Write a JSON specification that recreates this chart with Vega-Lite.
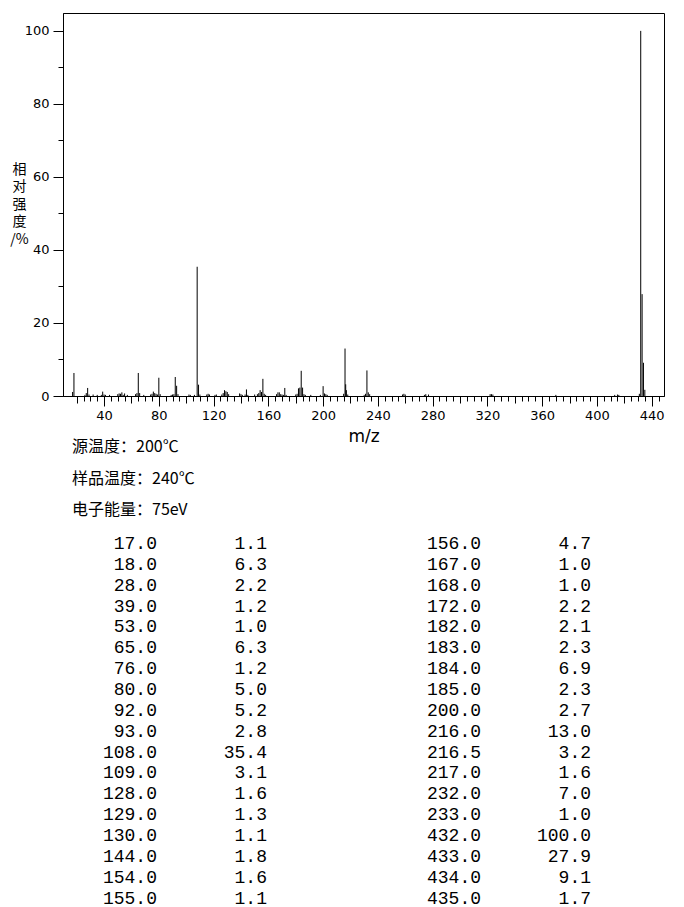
{
  "$schema": "https://vega.github.io/schema/vega-lite/v6.json",
  "background": "white",
  "padding": {"left": 9, "top": 12, "right": 0, "bottom": 0},
  "bounds": "flush",
  "spacing": 34,
  "config": {
    "view": {"stroke": null},
    "font": "DejaVu Sans",
    "axis": {
      "grid": false,
      "domainColor": "black",
      "tickColor": "black",
      "labelColor": "black",
      "titleColor": "black",
      "labelFont": "DejaVu Sans",
      "labelFontSize": 13,
      "titleFontWeight": "normal",
      "tickWidth": 1,
      "domainWidth": 1,
      "labelFlush": false,
      "labelOverlap": false
    }
  },
  "datasets": {
    "peaks": [
      {"mz": 17, "intensity": 1.1}, {"mz": 18, "intensity": 6.3}, {"mz": 26, "intensity": 0.3}, {"mz": 27, "intensity": 0.8},
      {"mz": 28, "intensity": 2.2}, {"mz": 29, "intensity": 0.4}, {"mz": 32, "intensity": 0.4}, {"mz": 35, "intensity": 0.3},
      {"mz": 38, "intensity": 0.3}, {"mz": 39, "intensity": 1.2}, {"mz": 40, "intensity": 0.4}, {"mz": 41, "intensity": 0.3},
      {"mz": 44, "intensity": 0.3}, {"mz": 50, "intensity": 0.5}, {"mz": 51, "intensity": 0.7}, {"mz": 52, "intensity": 0.6},
      {"mz": 53, "intensity": 1.0}, {"mz": 54, "intensity": 0.3}, {"mz": 55, "intensity": 0.7}, {"mz": 57, "intensity": 0.3},
      {"mz": 63, "intensity": 0.5}, {"mz": 64, "intensity": 0.8}, {"mz": 65, "intensity": 6.3}, {"mz": 66, "intensity": 0.8},
      {"mz": 69, "intensity": 0.3}, {"mz": 74, "intensity": 0.4}, {"mz": 75, "intensity": 0.6}, {"mz": 76, "intensity": 1.2},
      {"mz": 77, "intensity": 0.8}, {"mz": 78, "intensity": 0.6}, {"mz": 79, "intensity": 0.4}, {"mz": 80, "intensity": 5.0},
      {"mz": 81, "intensity": 0.5}, {"mz": 89, "intensity": 0.3}, {"mz": 90, "intensity": 0.4}, {"mz": 91, "intensity": 0.5},
      {"mz": 92, "intensity": 5.2}, {"mz": 93, "intensity": 2.8}, {"mz": 94, "intensity": 0.5}, {"mz": 102, "intensity": 0.4},
      {"mz": 103, "intensity": 0.3}, {"mz": 106, "intensity": 0.3}, {"mz": 108, "intensity": 35.4}, {"mz": 109, "intensity": 3.1},
      {"mz": 110, "intensity": 0.4}, {"mz": 115, "intensity": 0.4}, {"mz": 116, "intensity": 0.6}, {"mz": 117, "intensity": 0.4},
      {"mz": 121, "intensity": 0.3}, {"mz": 122, "intensity": 0.4}, {"mz": 126, "intensity": 0.4}, {"mz": 127, "intensity": 0.8},
      {"mz": 128, "intensity": 1.6}, {"mz": 129, "intensity": 1.3}, {"mz": 130, "intensity": 1.1}, {"mz": 131, "intensity": 0.5},
      {"mz": 139, "intensity": 0.7}, {"mz": 140, "intensity": 0.5}, {"mz": 141, "intensity": 0.3}, {"mz": 143, "intensity": 0.4},
      {"mz": 144, "intensity": 1.8}, {"mz": 145, "intensity": 0.3}, {"mz": 150, "intensity": 0.4}, {"mz": 152, "intensity": 0.5},
      {"mz": 153, "intensity": 0.8}, {"mz": 154, "intensity": 1.6}, {"mz": 155, "intensity": 1.1}, {"mz": 156, "intensity": 4.7},
      {"mz": 157, "intensity": 0.6}, {"mz": 158, "intensity": 0.3}, {"mz": 166, "intensity": 0.5}, {"mz": 167, "intensity": 1.0},
      {"mz": 168, "intensity": 1.0}, {"mz": 169, "intensity": 0.5}, {"mz": 170, "intensity": 0.4}, {"mz": 171, "intensity": 0.3},
      {"mz": 172, "intensity": 2.2}, {"mz": 173, "intensity": 0.3}, {"mz": 180, "intensity": 0.4}, {"mz": 181, "intensity": 0.6},
      {"mz": 182, "intensity": 2.1}, {"mz": 183, "intensity": 2.3}, {"mz": 184, "intensity": 6.9}, {"mz": 185, "intensity": 2.3},
      {"mz": 186, "intensity": 0.5}, {"mz": 187, "intensity": 0.3}, {"mz": 191, "intensity": 0.3}, {"mz": 198, "intensity": 0.3},
      {"mz": 200, "intensity": 2.7}, {"mz": 201, "intensity": 0.7}, {"mz": 202, "intensity": 0.5}, {"mz": 203, "intensity": 0.3},
      {"mz": 215, "intensity": 0.6}, {"mz": 216, "intensity": 13.0}, {"mz": 216.5, "intensity": 3.2}, {"mz": 217, "intensity": 1.6},
      {"mz": 218, "intensity": 0.4}, {"mz": 230, "intensity": 0.3}, {"mz": 231, "intensity": 0.6}, {"mz": 232, "intensity": 7.0},
      {"mz": 233, "intensity": 1.0}, {"mz": 234, "intensity": 0.5}, {"mz": 258, "intensity": 0.4}, {"mz": 259, "intensity": 0.6},
      {"mz": 260, "intensity": 0.4}, {"mz": 274, "intensity": 0.3}, {"mz": 275, "intensity": 0.5}, {"mz": 277, "intensity": 0.4},
      {"mz": 322, "intensity": 0.5}, {"mz": 323, "intensity": 0.5}, {"mz": 324, "intensity": 0.4}, {"mz": 370, "intensity": 0.3},
      {"mz": 413, "intensity": 0.3}, {"mz": 415, "intensity": 0.4}, {"mz": 416, "intensity": 0.3}, {"mz": 431, "intensity": 0.6},
      {"mz": 432, "intensity": 100.0}, {"mz": 433, "intensity": 27.9}, {"mz": 434, "intensity": 9.1}, {"mz": 435, "intensity": 1.7}
    ],
    "info": [
      {"column": "left", "line": 1, "text": "源温度：200℃"},
      {"column": "left", "line": 2, "text": "样品温度：240℃"},
      {"column": "left", "line": 3, "text": "电子能量：75eV"}
    ],
    "table": [
      {"column": "left", "line": 1, "mz": "17.0", "intensity": "1.1"},
      {"column": "left", "line": 2, "mz": "18.0", "intensity": "6.3"},
      {"column": "left", "line": 3, "mz": "28.0", "intensity": "2.2"},
      {"column": "left", "line": 4, "mz": "39.0", "intensity": "1.2"},
      {"column": "left", "line": 5, "mz": "53.0", "intensity": "1.0"},
      {"column": "left", "line": 6, "mz": "65.0", "intensity": "6.3"},
      {"column": "left", "line": 7, "mz": "76.0", "intensity": "1.2"},
      {"column": "left", "line": 8, "mz": "80.0", "intensity": "5.0"},
      {"column": "left", "line": 9, "mz": "92.0", "intensity": "5.2"},
      {"column": "left", "line": 10, "mz": "93.0", "intensity": "2.8"},
      {"column": "left", "line": 11, "mz": "108.0", "intensity": "35.4"},
      {"column": "left", "line": 12, "mz": "109.0", "intensity": "3.1"},
      {"column": "left", "line": 13, "mz": "128.0", "intensity": "1.6"},
      {"column": "left", "line": 14, "mz": "129.0", "intensity": "1.3"},
      {"column": "left", "line": 15, "mz": "130.0", "intensity": "1.1"},
      {"column": "left", "line": 16, "mz": "144.0", "intensity": "1.8"},
      {"column": "left", "line": 17, "mz": "154.0", "intensity": "1.6"},
      {"column": "left", "line": 18, "mz": "155.0", "intensity": "1.1"},
      {"column": "right", "line": 1, "mz": "156.0", "intensity": "4.7"},
      {"column": "right", "line": 2, "mz": "167.0", "intensity": "1.0"},
      {"column": "right", "line": 3, "mz": "168.0", "intensity": "1.0"},
      {"column": "right", "line": 4, "mz": "172.0", "intensity": "2.2"},
      {"column": "right", "line": 5, "mz": "182.0", "intensity": "2.1"},
      {"column": "right", "line": 6, "mz": "183.0", "intensity": "2.3"},
      {"column": "right", "line": 7, "mz": "184.0", "intensity": "6.9"},
      {"column": "right", "line": 8, "mz": "185.0", "intensity": "2.3"},
      {"column": "right", "line": 9, "mz": "200.0", "intensity": "2.7"},
      {"column": "right", "line": 10, "mz": "216.0", "intensity": "13.0"},
      {"column": "right", "line": 11, "mz": "216.5", "intensity": "3.2"},
      {"column": "right", "line": 12, "mz": "217.0", "intensity": "1.6"},
      {"column": "right", "line": 13, "mz": "232.0", "intensity": "7.0"},
      {"column": "right", "line": 14, "mz": "233.0", "intensity": "1.0"},
      {"column": "right", "line": 15, "mz": "432.0", "intensity": "100.0"},
      {"column": "right", "line": 16, "mz": "433.0", "intensity": "27.9"},
      {"column": "right", "line": 17, "mz": "434.0", "intensity": "9.1"},
      {"column": "right", "line": 18, "mz": "435.0", "intensity": "1.7"}
    ]
  },
  "vconcat": [
    {
      "width": 601,
      "height": 383,
      "view": {"stroke": "black", "strokeWidth": 1},
      "data": {"name": "peaks"},
      "layer": [
        {
          "mark": {"type": "rule", "color": "black", "strokeWidth": 1},
          "encoding": {
            "x": {
              "field": "mz", "type": "quantitative",
              "scale": {"domain": [10, 449], "nice": false, "zero": false},
              "axis": {
                "orient": "bottom",
                "values": [40, 80, 120, 160, 200, 240, 280, 320, 360, 400, 440],
                "tickSize": 10,
                "labelPadding": 3,
                "title": "m/z",
                "titleFont": "DejaVu Sans",
                "titleFontSize": 17,
                "titlePadding": 6
              }
            },
            "y": {
              "field": "intensity", "type": "quantitative",
              "scale": {"domain": [0, 104.9], "nice": false},
              "axis": {
                "orient": "left",
                "values": [0, 20, 40, 60, 80, 100],
                "tickSize": 10,
                "labelPadding": 4,
                "title": ["相", "对", "强", "度", "/%"],
                "titleAngle": 0,
                "titleAlign": "center",
                "titleBaseline": "middle",
                "titleX": -44,
                "titleY": 156,
                "titleFont": "Noto Sans CJK SC",
                "titleFontSize": 14,
                "titleLineHeight": 17.5
              }
            },
            "y2": {"datum": 0}
          }
        },
        {
          "mark": {"type": "rule", "opacity": 0},
          "encoding": {
            "x": {
              "field": "mz", "type": "quantitative",
              "axis": {
                "orient": "bottom",
                "values": [20, 60, 100, 140, 180, 220, 260, 300, 340, 380, 420],
                "tickSize": 7, "labels": false, "domain": false, "title": null
              }
            },
            "y": {
              "field": "intensity", "type": "quantitative",
              "axis": {
                "orient": "left",
                "values": [10, 30, 50, 70, 90],
                "tickSize": 5, "labels": false, "domain": false, "title": null
              }
            },
            "y2": {"datum": 0}
          }
        },
        {
          "mark": {"type": "rule", "opacity": 0},
          "encoding": {
            "x": {
              "field": "mz", "type": "quantitative",
              "axis": {
                "orient": "bottom",
                "values": [20, 25, 30, 35, 40, 45, 50, 55, 60, 65, 70, 75, 80, 85, 90, 95, 100, 105, 110, 115, 120, 125, 130, 135, 140, 145, 150, 155, 160, 165, 170, 175, 180, 185, 190, 195, 200, 205, 210, 215, 220, 225, 230, 235, 240, 245, 250, 255, 260, 265, 270, 275, 280, 285, 290, 295, 300, 305, 310, 315, 320, 325, 330, 335, 340, 345, 350, 355, 360, 365, 370, 375, 380, 385, 390, 395, 400, 405, 410, 415, 420, 425, 430, 435, 440, 445],
                "tickSize": 5, "labels": false, "domain": false, "title": null
              }
            },
            "y": {"field": "intensity", "type": "quantitative", "axis": null},
            "y2": {"datum": 0}
          }
        }
      ],
      "resolve": {"axis": {"x": "independent", "y": "independent"}}
    },
    {
      "width": 601,
      "height": 80,
      "data": {"name": "info"},
      "mark": {"type": "text", "align": "left", "baseline": "middle", "font": "Noto Sans CJK SC", "fontSize": 16, "color": "black", "dx": 9},
      "encoding": {
        "x": {"field": "column", "type": "nominal", "scale": {"type": "point", "padding": 0, "align": 0}, "axis": null},
        "y": {"field": "line", "type": "ordinal", "scale": {"type": "point", "padding": 0.27, "align": 1}, "axis": null},
        "text": {"field": "text"}
      }
    },
    {
      "width": 512,
      "height": 363,
      "data": {"name": "table"},
      "encoding": {
        "x": {"field": "column", "type": "nominal", "scale": {"type": "point", "padding": 0.29}, "axis": null},
        "y": {"field": "line", "type": "ordinal", "scale": {"type": "point", "padding": 0.2, "align": 0}, "axis": null}
      },
      "layer": [
        {
          "mark": {"type": "text", "align": "right", "baseline": "middle", "font": "Liberation Mono", "fontSize": 18, "color": "black"},
          "encoding": {"text": {"field": "mz"}}
        },
        {
          "mark": {"type": "text", "align": "right", "baseline": "middle", "font": "Liberation Mono", "fontSize": 18, "color": "black", "dx": 110},
          "encoding": {"text": {"field": "intensity"}}
        }
      ]
    }
  ]
}
